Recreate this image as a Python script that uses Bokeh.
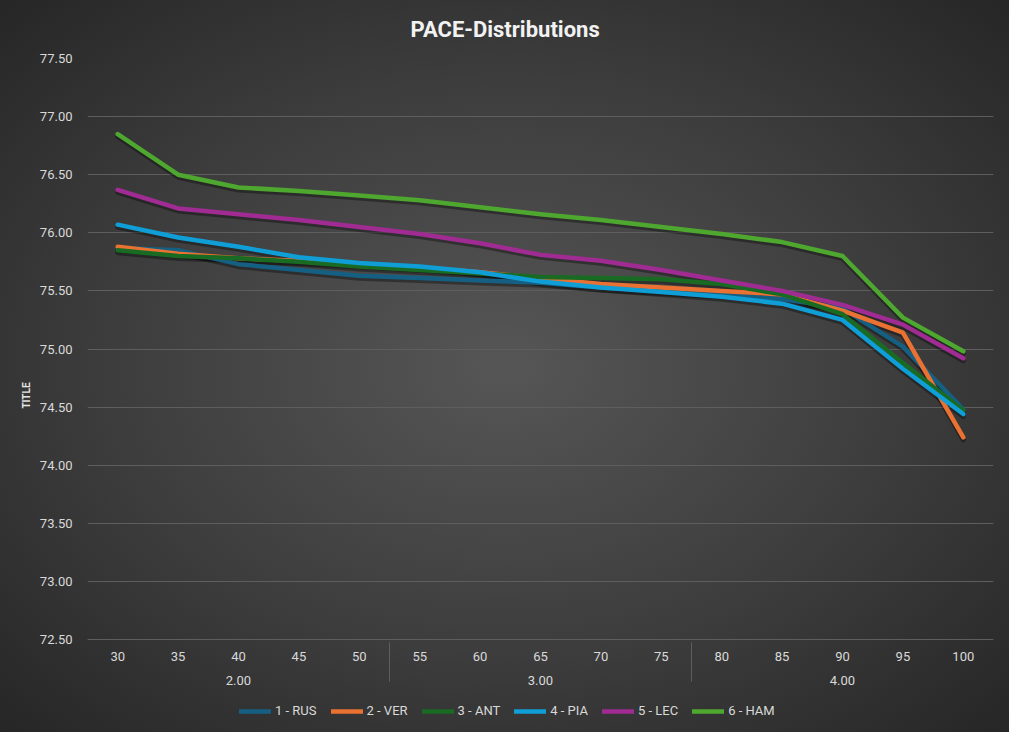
from bokeh.plotting import figure
from bokeh.models import (FactorRange, Range1d, Legend, LegendItem, FixedTicker,
                          NumeralTickFormatter, ColumnDataSource)
from bokeh.embed import file_html
from bokeh.resources import INLINE

# ---------------- data ----------------
laps = ["30", "35", "40", "45", "50", "55", "60", "65", "70", "75", "80", "85", "90", "95", "100"]
groups = ["2.00"] * 5 + ["3.00"] * 5 + ["4.00"] * 5
y_ticks = [72.5, 73.0, 73.5, 74.0, 74.5, 75.0, 75.5, 76.0, 76.5, 77.0, 77.5]

series_names = ["1 - RUS", "2 - VER", "3 - ANT", "4 - PIA", "5 - LEC", "6 - HAM"]
rus = [75.87, 75.85, 75.73, 75.68, 75.63, 75.61, 75.59, 75.57, 75.53, 75.50, 75.47, 75.43, 75.35, 75.02, 74.48]
ver = [75.88, 75.82, 75.78, 75.76, 75.73, 75.70, 75.66, 75.61, 75.56, 75.53, 75.50, 75.47, 75.33, 75.14, 74.24]
ant = [75.85, 75.80, 75.78, 75.75, 75.71, 75.68, 75.65, 75.62, 75.61, 75.60, 75.56, 75.47, 75.30, 74.88, 74.47]
pia = [76.07, 75.96, 75.88, 75.79, 75.74, 75.71, 75.66, 75.58, 75.53, 75.49, 75.45, 75.39, 75.25, 74.83, 74.44]
lec = [76.37, 76.21, 76.16, 76.11, 76.05, 75.99, 75.91, 75.81, 75.76, 75.68, 75.59, 75.50, 75.38, 75.21, 74.92]
ham = [76.85, 76.50, 76.39, 76.36, 76.32, 76.28, 76.22, 76.16, 76.11, 76.05, 75.99, 75.92, 75.80, 75.27, 74.98]

colors = ["#156082", "#E97132", "#196B24", "#0F9ED5", "#A02B93", "#4EA72E"]

factors = list(zip(groups, laps))
source = ColumnDataSource(data=dict(x=factors, rus=rus, ver=ver, ant=ant, pia=pia, lec=lec, ham=ham))
cols = ["rus", "ver", "ant", "pia", "lec", "ham"]

# ---------------- figure ----------------
x_range = FactorRange(*factors, factor_padding=0, group_padding=0, subgroup_padding=0, range_padding=0)
y_min, y_max = y_ticks[0], y_ticks[-1]
px_per_unit = 581 / (y_max - y_min)
bottom_space = 93                      # room below the axis for category labels and legend
y_start = y_min - bottom_space / px_per_unit

p = figure(frame_width=906, frame_height=581 + bottom_space, x_range=x_range,
           y_range=Range1d(y_start, y_max),
           output_backend="svg", toolbar_location=None,
           min_border_left=87, min_border_right=16, min_border_top=58, min_border_bottom=0)

p.background_fill_color = None
p.border_fill_color = None
p.outline_line_color = None
p.styles = {"background": "radial-gradient(ellipse at 50% 50%, #565656 0%, #3d3d3d 55%, #262626 100%)"}

# title
p.title.text = "PACE-Distributions"
p.title.align = "left"
p.title.vertical_align = "top"
p.title.offset = 323
p.title.text_font = "Roboto"
p.title.text_font_size = "22px"
p.title.text_font_style = "bold"
p.title.text_color = "#f2f2f2"
p.title.standoff = 29

# shadow range (shifts lines ~2.5px down)
shift = 2.5 / px_per_unit
p.extra_y_ranges = {"shadow": Range1d(y_start + shift, y_max + shift)}

items = []
for col in cols:
    p.line(x="x", y=col, source=source, y_range_name="shadow", line_color="black",
           line_alpha=0.35, line_width=5, line_join="round", line_cap="round")
for col, name, c in zip(cols, series_names, colors):
    r = p.line(x="x", y=col, source=source, line_color=c, line_width=4.5,
               line_join="round", line_cap="round")
    items.append(LegendItem(label=name, renderers=[r]))

yax = p.yaxis[0]
yax.ticker = FixedTicker(ticks=y_ticks)
yax.formatter = NumeralTickFormatter(format="0.00")
yax.axis_line_color = None
yax.major_tick_line_color = None
yax.major_tick_out = 0
yax.major_tick_in = 0
yax.minor_tick_line_color = None
yax.major_label_text_color = "#d9d9d9"
yax.major_label_text_font = "Roboto"
yax.major_label_text_font_size = "13px"
yax.major_label_standoff = 15
yax.axis_label = "TITLE"
yax.axis_label_text_font = "Roboto"
yax.axis_label_text_font_size = "10px"
yax.axis_label_text_font_style = "bold"
yax.axis_label_text_color = "#e6e6e6"
yax.axis_label_standoff = 5

xax = p.xaxis[0]
xax.fixed_location = y_min
xax.axis_line_color = "#5e5e5e"
xax.axis_line_width = 1
xax.major_tick_line_color = None
xax.major_tick_out = 0
xax.major_tick_in = 0
xax.minor_tick_line_color = None
xax.major_label_text_color = "#d9d9d9"
xax.major_label_text_font = "Roboto"
xax.major_label_text_font_size = "13px"
xax.major_label_standoff = 12
xax.group_text_color = "#d9d9d9"
xax.group_text_font = "Roboto"
xax.group_text_font_size = "13px"
xax.group_text_font_style = "normal"
xax.separator_line_color = "#5e5e5e"
xax.separator_line_width = 1

p.xgrid.grid_line_color = None
p.ygrid.grid_line_color = "#5e5e5e"
p.ygrid.grid_line_width = 1
p.ygrid.ticker = FixedTicker(ticks=y_ticks)

legend = Legend(items=items, orientation="horizontal", location=(152, 14),
                background_fill_alpha=0, border_line_color=None,
                label_text_color="#d9d9d9", label_text_font="Roboto",
                label_text_font_size="13px", glyph_width=32, glyph_height=14,
                label_standoff=4, spacing=14, padding=4, margin=0)
p.add_layout(legend, "center")

open("out.html", "w").write(file_html(p, INLINE))
